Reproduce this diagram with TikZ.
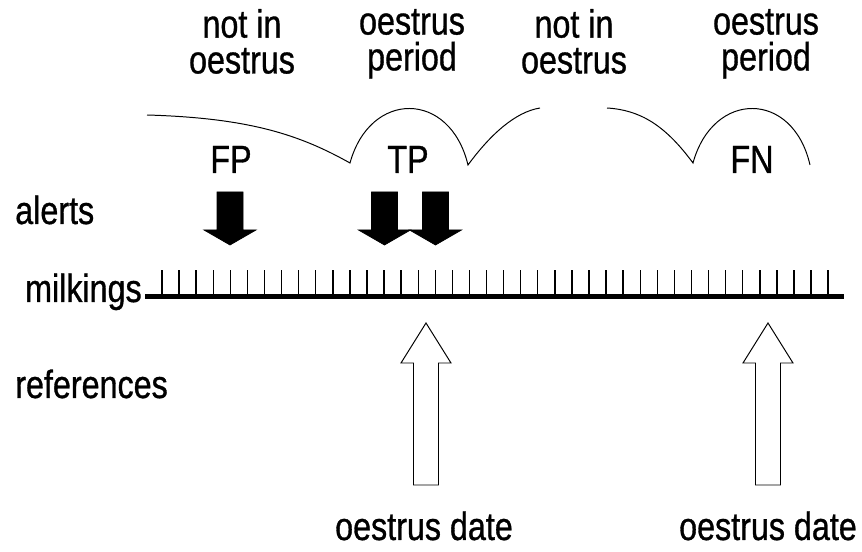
\documentclass[tikz,border=0pt]{standalone}
\usepackage{fontspec}
\setmainfont{Liberation Sans}[FakeStretch=0.82, FakeBold=0.8]
\usepackage{tikz}
\usetikzlibrary{calc}
\usetikzlibrary{positioning}
\tikzset{>=latex}
\tikzset{lbl/.style = {inner sep=0pt, font=\fontsize{28}{25.5}\selectfont}}
\tikzset{phase/.style = {lbl, anchor=north, align=center}}
\tikzset{curve/.style = {draw=black, line width=0.7pt}}
\tikzset{milkline/.style = {draw=black, line width=3.2pt}}
\tikzset{tick/.style = {draw=black, line width=1pt}}
\tikzset{alert/.style = {fill=black, draw=black, line width=0.5pt}}
\tikzset{refarrow/.style = {fill=white, draw=black, line width=0.7pt}}

\begin{document}
\begin{tikzpicture}
\useasboundingbox (0,0) rectangle (21.55,13.8);

% row labels
\node [lbl, anchor=base west] (alerts) at (0.375, 8.2) {alerts};
\node [lbl, anchor=base east] (milk) at (3.55, 6.25) {milkings};
\node [lbl, anchor=base west] (refs) at (0.375, 3.85) {references};

% phases over the time line
\node [phase] (P1) at (6.05, 13.58) {not in\\oestrus};
\node [phase] (P2) at (10.3, 13.58) {oestrus\\period};
\node [phase] (P3) at (14.35, 13.58) {not in\\oestrus};
\node [phase] (P4) at (19.15, 13.58) {oestrus\\period};

\draw [curve] (3.675,10.925) .. controls (6.25,10.85) and (7.5,10.425) .. (8.75,9.725)
  .. controls (9.25,11.55) and (11.25,11.55) .. (11.7,9.675)
  .. controls (12.25,10.425) and (12.875,11.0) .. (13.5,11.1);
\draw [curve] (15.175,11.1) .. controls (16.0,11.05) and (16.625,10.675) .. (17.325,9.725)
  .. controls (17.825,11.55) and (19.825,11.55) .. (20.25,9.675);

\node [lbl, anchor=base] (FP) at (5.775, 9.475) {FP};
\node [lbl, anchor=base] (TP) at (10.2, 9.475) {TP};
\node [lbl, anchor=base] (FN) at (18.8, 9.475) {FN};

% alerts
\foreach \c in {5.75, 9.6125, 10.8875}
  \draw [alert] (\c-0.325,9.0) -- (\c+0.325,9.0) -- (\c+0.325,8.05) -- (\c+0.65,8.05)
    -- (\c,7.675) -- (\c-0.65,8.05) -- (\c-0.325,8.05) -- cycle;

% milkings
\coordinate (m0) at (3.625, 6.3875);
\coordinate (m1) at (21.1, 6.3875);
\draw [milkline] (m0) -- (m1);
\foreach \i in {0,...,39}
  \draw [tick] ({4.05+0.427*\i}, 6.3875) -- ++(0, 0.6625);

% references
\node [lbl, anchor=base] (D1) at (10.6, 0.3) {oestrus date};
\node [lbl, anchor=base] (D2) at (19.2, 0.3) {oestrus date};
\foreach \c in {10.65, 19.2}
  \draw [refarrow] (\c-0.3125,1.675) -- (\c-0.3125,4.725) -- (\c-0.625,4.725) -- (\c,5.725)
    -- (\c+0.625,4.725) -- (\c+0.3125,4.725) -- (\c+0.3125,1.675) -- cycle;
\end{tikzpicture}
\end{document}
